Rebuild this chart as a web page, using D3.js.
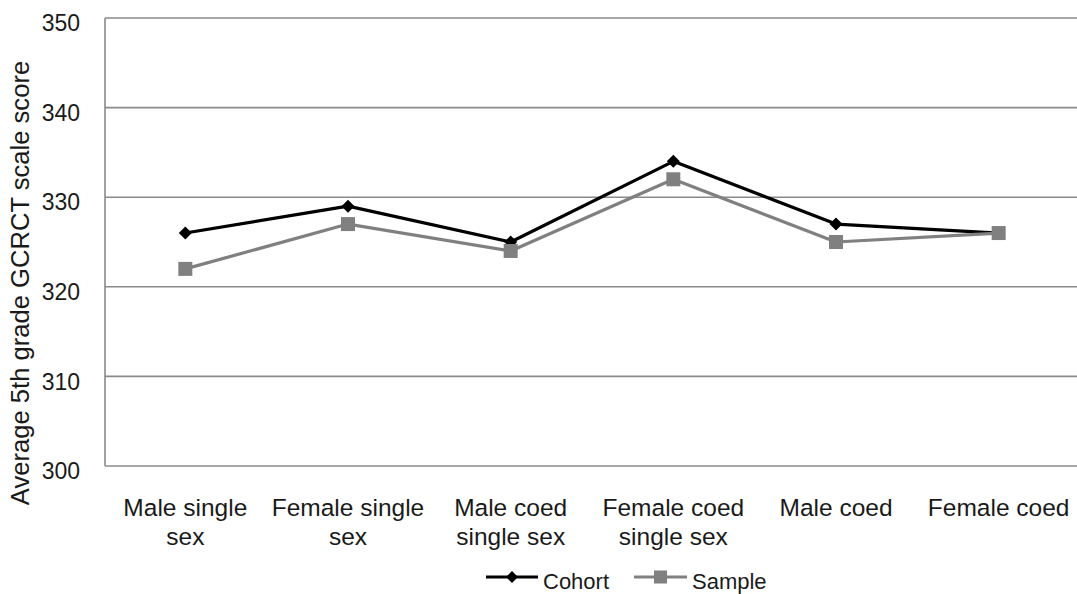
<!DOCTYPE html>
<html>
<head>
<meta charset="utf-8">
<script src="https://cdn.jsdelivr.net/npm/d3@7"></script>
<style>
  html, body { margin: 0; padding: 0; background: #fff; }
  svg { display: block; }
  text { font-family: "Liberation Sans", Arial, sans-serif; fill: #1a1a1a; }
</style>
</head>
<body>
<svg id="chart" width="1077" height="594"></svg>
<script>
const categories = [
  ["Male single", "sex"],
  ["Female single", "sex"],
  ["Male coed", "single sex"],
  ["Female coed", "single sex"],
  ["Male coed"],
  ["Female coed"]
];
const cohort = [326, 329, 325, 334, 327, 326];
const sample = [322, 327, 324, 332, 325, 326];
const yTicks = [300, 310, 320, 330, 340, 350];
const seriesNames = ["Cohort", "Sample"];
const yTitle = "Average 5th grade GCRCT scale score";

(function () {
const svg = d3.select("#chart");
const mLeft = 105, mRight = 1081, mTop = 18, mBottom = 466;

const x = d3.scaleBand().domain(d3.range(categories.length)).range([mLeft - 1, mRight - 1]);
const y = d3.scaleLinear().domain([300, 350]).range([mBottom, mTop]);

// gridlines
svg.append("g")
  .selectAll("line")
  .data(yTicks)
  .join("line")
  .attr("x1", mLeft).attr("x2", 1077)
  .attr("y1", d => y(d)).attr("y2", d => y(d))
  .attr("stroke", "#8a8a8a").attr("stroke-width", 1.6);

// left axis line
svg.append("line")
  .attr("x1", mLeft).attr("x2", mLeft)
  .attr("y1", mTop).attr("y2", mBottom)
  .attr("stroke", "#8a8a8a").attr("stroke-width", 1.6);

// y tick labels
const yAxis = d3.axisLeft(y).tickValues(yTicks).tickSize(0).tickPadding(0);
const gy = svg.append("g").attr("transform", `translate(80,0)`).call(yAxis);
gy.select(".domain").remove();
gy.attr("font-size", 23).attr("font-family", "Liberation Sans, Arial, sans-serif");
gy.selectAll("text")
  .attr("fill", "#1a1a1a")
  .attr("dy", "0.55em");

// y title
svg.append("text")
  .attr("transform", "translate(29,283) rotate(-90)")
  .attr("text-anchor", "middle")
  .attr("font-size", 25.6)
  .text(yTitle);

// x labels
const xl = svg.append("g");
categories.forEach((lines, i) => {
  const t = xl.append("text")
    .attr("text-anchor", "middle")
    .attr("font-size", 24.5)
    .attr("x", x(i) + x.bandwidth() / 2)
    .attr("y", 516);
  lines.forEach((ln, j) => {
    t.append("tspan")
      .attr("x", x(i) + x.bandwidth() / 2)
      .attr("dy", j === 0 ? 0 : 29)
      .text(ln);
  });
});

const cx = i => x(i) + x.bandwidth() / 2;
const line = d3.line().x((d, i) => cx(i)).y(d => y(d));

// cohort line
svg.append("path")
  .datum(cohort)
  .attr("d", line)
  .attr("fill", "none")
  .attr("stroke", "#000")
  .attr("stroke-width", 3.2)
  .attr("stroke-linejoin", "round");

svg.append("g")
  .selectAll("path")
  .data(cohort)
  .join("path")
  .attr("transform", (d, i) => `translate(${cx(i)},${y(d)})`)
  .attr("d", "M0,-6.5L6.5,0L0,6.5L-6.5,0Z")
  .attr("fill", "#000");

// sample line
svg.append("path")
  .datum(sample)
  .attr("d", line)
  .attr("fill", "none")
  .attr("stroke", "#808080")
  .attr("stroke-width", 3.2)
  .attr("stroke-linejoin", "round");

svg.append("g")
  .selectAll("rect")
  .data(sample)
  .join("rect")
  .attr("x", (d, i) => cx(i) - 7)
  .attr("y", d => y(d) - 7)
  .attr("width", 14).attr("height", 14)
  .attr("fill", "#808080");

// legend
const lg = svg.append("g");
const legendItems = [
  { name: seriesNames[0], x0: 486, x1: 538, tx: 543, color: "#000", shape: "diamond" },
  { name: seriesNames[1], x0: 634, x1: 687, tx: 692, color: "#808080", shape: "square" }
];
const ly = 577;
legendItems.forEach(it => {
  lg.append("line")
    .attr("x1", it.x0).attr("x2", it.x1)
    .attr("y1", ly).attr("y2", ly)
    .attr("stroke", it.color).attr("stroke-width", 3.2);
  const mx = (it.x0 + it.x1) / 2;
  if (it.shape === "diamond") {
    lg.append("path")
      .attr("transform", `translate(${mx},${ly})`)
      .attr("d", "M0,-6L6,0L0,6L-6,0Z")
      .attr("fill", it.color);
  } else {
    lg.append("rect")
      .attr("x", mx - 6.5).attr("y", ly - 6.5)
      .attr("width", 13).attr("height", 13)
      .attr("fill", it.color);
  }
  lg.append("text")
    .attr("x", it.tx).attr("y", 589)
    .attr("font-size", 22)
    .text(it.name);
});
})();
</script>
</body>
</html>
